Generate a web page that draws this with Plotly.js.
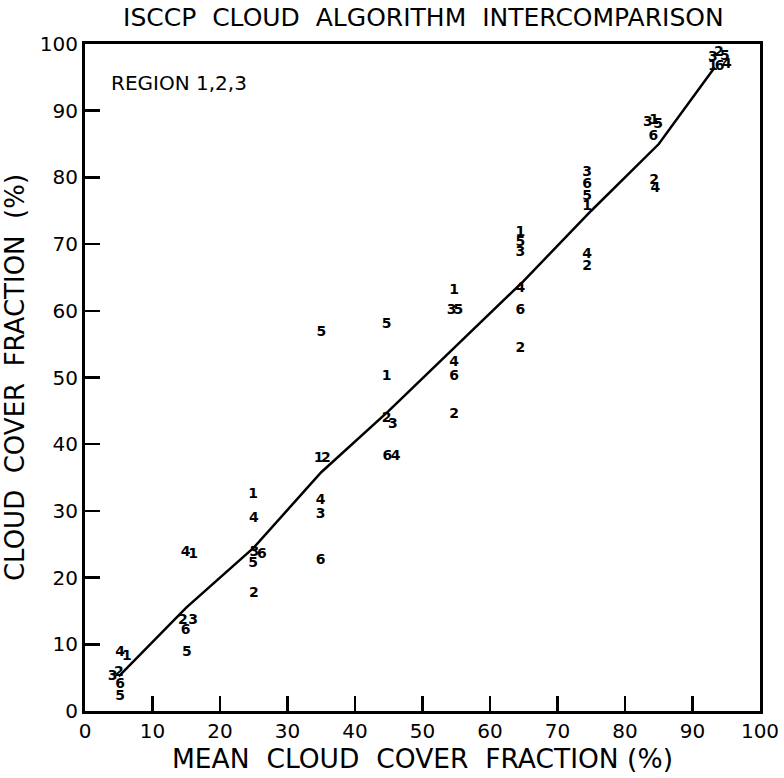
<!DOCTYPE html>
<html>
<head>
<meta charset="utf-8">
<script src="https://cdn.plot.ly/plotly-3.0.1.min.js"></script>
<style>html,body{margin:0;padding:0;background:#fff;}#chart{width:784px;height:778px;}</style>
</head>
<body>
<div id="chart"></div>
<script>
// Algorithm labels
const algorithms = ['1', '2', '3', '4', '5', '6'];

// Mean cloud cover fraction (x) and algorithm cloud cover fraction (y), per algorithm
const alg1X = [6.2, 16.0, 24.9, 34.6, 44.7, 54.7, 64.5, 74.4, 84.3, 93.0];
const alg1Y = [8.1, 23.5, 32.5, 37.9, 50.1, 63.0, 71.8, 75.6, 88.6, 96.6];
const alg2X = [5.0, 14.5, 25.0, 35.7, 44.7, 54.7, 64.5, 74.4, 84.3, 93.9];
const alg2Y = [5.8, 13.6, 17.6, 37.9, 43.9, 44.5, 54.4, 66.7, 79.5, 98.8];
const alg3X = [4.1, 16.0, 25.1, 34.9, 45.6, 54.3, 64.5, 74.4, 83.4, 93.0];
const alg3Y = [5.1, 13.6, 23.7, 29.4, 43.0, 60.0, 68.7, 80.7, 88.2, 98.0];
const alg4X = [5.2, 14.9, 25.0, 34.9, 46.0, 54.7, 64.5, 74.4, 84.5, 95.1];
const alg4Y = [8.7, 23.8, 28.9, 31.5, 38.1, 52.3, 63.3, 68.4, 78.4, 96.9];
const alg5X = [5.2, 15.1, 24.9, 35.0, 44.7, 55.3, 64.5, 74.4, 84.9, 94.8];
const alg5Y = [2.1, 8.7, 22.1, 56.7, 58.0, 60.0, 70.3, 77.2, 88.0, 98.2];
const alg6X = [5.2, 14.9, 26.2, 34.9, 44.8, 54.7, 64.5, 74.4, 84.2, 94.0];
const alg6Y = [3.9, 12.1, 23.5, 22.5, 38.2, 50.2, 60.1, 79.0, 86.2, 96.6];

// Mean curve
const meanX = [5.0, 15.0, 25.0, 35.0, 45.0, 55.0, 65.0, 75.0, 85.0, 93.3];
const meanY = [5.2, 15.5, 24.5, 35.8, 45.0, 54.8, 64.5, 75.0, 85.0, 96.5];

// Axis ticks
const tickVals = [0, 10, 20, 30, 40, 50, 60, 70, 80, 90, 100];
const tickText = ['0', '10', '20', '30', '40', '50', '60', '70', '80', '90', '100'];

const FONT = 'DejaVu Sans, Liberation Sans, sans-serif';
const xs = [alg1X, alg2X, alg3X, alg4X, alg5X, alg6X];
const ys = [alg1Y, alg2Y, alg3Y, alg4Y, alg5Y, alg6Y];

const traces = [{
  x: meanX, y: meanY, mode: 'lines', type: 'scatter',
  line: {color: '#000', width: 2.5},
  hoverinfo: 'skip', showlegend: false
}];
algorithms.forEach((a, i) => {
  traces.push({
    x: xs[i], y: ys[i], mode: 'text', type: 'scatter',
    text: xs[i].map(() => a),
    textposition: 'middle center',
    textfont: {family: FONT, size: 14, color: '#000', weight: 'bold'},
    showlegend: false, name: 'Algorithm ' + a
  });
});

const axisCommon = {
  range: [0, 100], tickvals: tickVals, ticktext: tickText,
  ticks: 'inside', ticklen: 15, tickwidth: 2.5, tickcolor: '#000',
  showline: true, linewidth: 3, linecolor: '#000', mirror: true,
  showgrid: false, zeroline: false,
  tickfont: {family: FONT, size: 20, color: '#000'}
};

const layout = {
  width: 784, height: 778,
  margin: {l: 85, r: 24, t: 44, b: 67},
  paper_bgcolor: '#fff', plot_bgcolor: '#fff',
  title: {text: 'ISCCP  CLOUD  ALGORITHM  INTERCOMPARISON', x: 0.54, xanchor: 'center', y: 0.978, yanchor: 'middle',
          font: {family: FONT, size: 25, color: '#000'}},
  xaxis: Object.assign({}, axisCommon, {
    title: {text: 'MEAN  CLOUD  COVER  FRACTION (%)', standoff: 7, font: {family: FONT, size: 26.5, color: '#000'}}
  }),
  yaxis: Object.assign({}, axisCommon, {
    title: {text: 'CLOUD  COVER  FRACTION  (%)', standoff: 8, font: {family: FONT, size: 26, color: '#000'}}
  }),
  annotations: [{
    text: 'REGION 1,2,3', xref: 'paper', yref: 'paper', x: 0.035, y: 0.942,
    xanchor: 'left', yanchor: 'middle', showarrow: false,
    font: {family: FONT, size: 20, color: '#000'}
  }],
  showlegend: false
};

Plotly.newPlot('chart', traces, layout, {displayModeBar: false, staticPlot: true});
</script>
</body>
</html>
